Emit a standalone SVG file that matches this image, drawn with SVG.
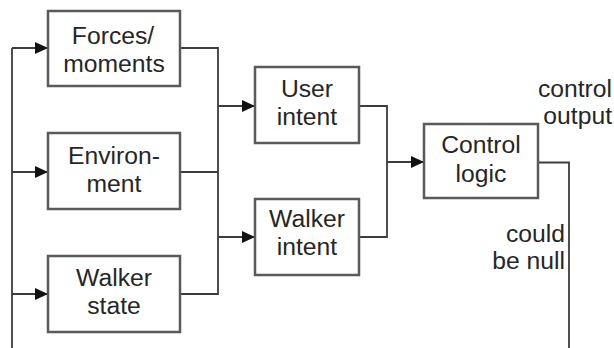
<svg xmlns="http://www.w3.org/2000/svg" width="614" height="348" viewBox="0 0 614 348">
<style>
.box{fill:#fff;stroke:#5a5a5a;stroke-width:2.5}
.t{font-family:"Liberation Sans",Arial,sans-serif;font-size:24.7px;fill:#262626;text-anchor:middle}
.r{text-anchor:end}
.ln{fill:none;stroke:#3c3c3c;stroke-width:1.8}
</style>
<defs>
<marker id="ah" markerUnits="userSpaceOnUse" markerWidth="13" markerHeight="12" refX="13" refY="6" orient="auto">
<path d="M0,0 L13,6 L0,12 Z" fill="#111"/>
</marker>
</defs>
<g id="connectors">
<path class="ln" d="M12,348 V48"/>
<path class="ln" d="M12,48 H48" marker-end="url(#ah)"/>
<path class="ln" d="M12,172 H48" marker-end="url(#ah)"/>
<path class="ln" d="M12,294 H48" marker-end="url(#ah)"/>
<path class="ln" d="M180,48 H218 V294 H180"/>
<path class="ln" d="M180,172 H218"/>
<path class="ln" d="M218,106 H255" marker-end="url(#ah)"/>
<path class="ln" d="M218,237 H255" marker-end="url(#ah)"/>
<path class="ln" d="M359,106 H387 V237 H359"/>
<path class="ln" d="M387,162 H424" marker-end="url(#ah)"/>
<path class="ln" d="M538,162.5 H569 V348"/>
</g>
<g id="forces">
<rect class="box" x="48" y="11" width="132" height="75"/>
<text class="t" x="113" y="44">Forces/</text>
<text class="t" x="114" y="71.5">moments</text>
</g>
<g id="environment">
<rect class="box" x="48" y="133" width="132" height="76"/>
<text class="t" x="114" y="164">Environ-</text>
<text class="t" x="114" y="192">ment</text>
</g>
<g id="walker-state">
<rect class="box" x="48" y="256" width="132" height="76"/>
<text class="t" x="114" y="286">Walker</text>
<text class="t" x="114" y="314">state</text>
</g>
<g id="user-intent">
<rect class="box" x="255" y="67" width="104" height="76"/>
<text class="t" x="307" y="97">User</text>
<text class="t" x="307" y="125">intent</text>
</g>
<g id="walker-intent">
<rect class="box" x="255" y="199" width="104" height="76"/>
<text class="t" x="307" y="227">Walker</text>
<text class="t" x="307" y="255">intent</text>
</g>
<g id="control-logic">
<rect class="box" x="424" y="124" width="114" height="74"/>
<text class="t" x="481" y="153">Control</text>
<text class="t" x="481" y="181.5">logic</text>
</g>
<g id="labels">
<text class="t r" x="612" y="97">control</text>
<text class="t r" x="612" y="124">output</text>
<text class="t r" x="565" y="242">could</text>
<text class="t r" x="565" y="269">be null</text>
</g>
</svg>
